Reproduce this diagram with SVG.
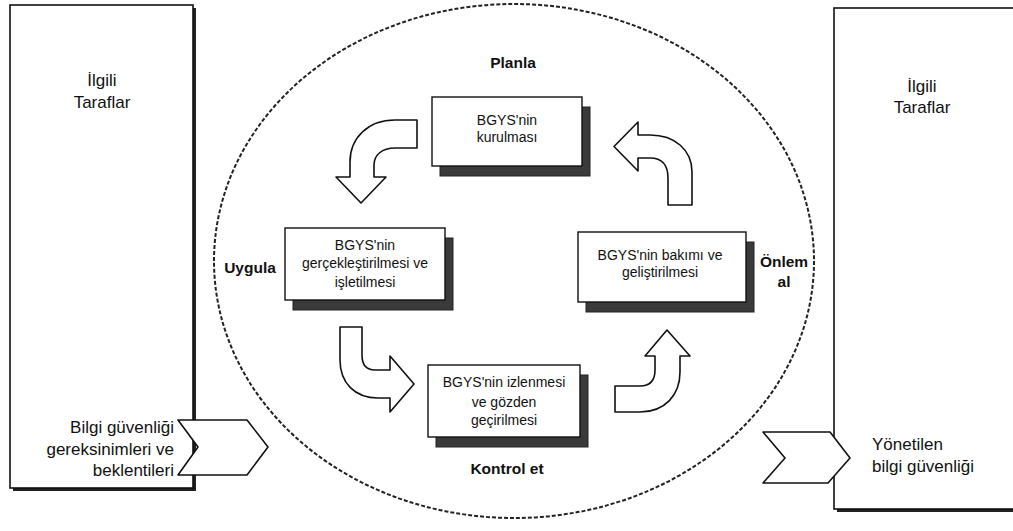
<svg xmlns="http://www.w3.org/2000/svg" width="1013" height="531" viewBox="0 0 1013 531">
<style>
text{font-family:"Liberation Sans",Arial,sans-serif;fill:#111}
.outer{font-size:17px}
.lbl{font-size:15.5px;font-weight:bold}
.bt{font-size:14px}
.box{fill:#fff;stroke:#111;stroke-width:1.4}
.shadow{fill:#3a3a3a;stroke:#222;stroke-width:1}
.arrow{fill:#fff;stroke:#111;stroke-width:1.6;stroke-linejoin:round}
.panel{fill:#fff;stroke:#111;stroke-width:1.6}
.pshadow{fill:#222}
</style>
<rect width="1013" height="531" fill="#fff"/>
<g id="left-party">
  <rect class="pshadow" x="13" y="8" width="183" height="483"/>
  <rect class="panel" x="10" y="5" width="183" height="483"/>
  <text class="outer" x="102" y="86" text-anchor="middle">İlgili</text>
  <text class="outer" x="102" y="108" text-anchor="middle">Taraflar</text>
  <text class="outer" x="174" y="433" text-anchor="end">Bilgi güvenliği</text>
  <text class="outer" x="174" y="455" text-anchor="end">gereksinimleri ve</text>
  <text class="outer" x="174" y="476" text-anchor="end">beklentileri</text>
</g>
<g id="right-party">
  <rect class="pshadow" x="837" y="11" width="190" height="501"/>
  <rect class="panel" x="834" y="8" width="190" height="501"/>
  <text class="outer" x="922" y="92" text-anchor="middle">İlgili</text>
  <text class="outer" x="922" y="113" text-anchor="middle">Taraflar</text>
  <text class="outer" x="872" y="450">Yönetilen</text>
  <text class="outer" x="872" y="472">bilgi güvenliği</text>
</g>
<g id="cycle">
  <ellipse cx="514" cy="261" rx="300" ry="257" fill="none" stroke="#222" stroke-width="2" stroke-dasharray="4 2"/>
  <text class="lbl" x="513" y="68" text-anchor="middle">Planla</text>
  <text class="lbl" x="250" y="273" text-anchor="middle">Uygula</text>
  <text class="lbl" x="784" y="267" text-anchor="middle">Önlem</text>
  <text class="lbl" x="784" y="287" text-anchor="middle">al</text>
  <text class="lbl" x="507" y="474" text-anchor="middle">Kontrol et</text>
</g>
<g id="node-plan">
  <rect class="shadow" x="440" y="107" width="150" height="69"/>
  <rect class="box" x="432" y="97" width="150" height="69"/>
  <text class="bt" x="507" y="125" text-anchor="middle">BGYS'nin</text>
  <text class="bt" x="507" y="142" text-anchor="middle">kurulması</text>
</g>
<g id="node-do">
  <rect class="shadow" x="293" y="238" width="160" height="72"/>
  <rect class="box" x="285" y="228" width="160" height="72"/>
  <text class="bt" x="365" y="250" text-anchor="middle">BGYS'nin</text>
  <text class="bt" x="365" y="268" text-anchor="middle">gerçekleştirilmesi ve</text>
  <text class="bt" x="365" y="287" text-anchor="middle">işletilmesi</text>
</g>
<g id="node-act">
  <rect class="shadow" x="586" y="242" width="168" height="70"/>
  <rect class="box" x="578" y="232" width="168" height="70"/>
  <text class="bt" x="660" y="260" text-anchor="middle">BGYS'nin bakımı ve</text>
  <text class="bt" x="660" y="277" text-anchor="middle">geliştirilmesi</text>
</g>
<g id="node-check">
  <rect class="shadow" x="436" y="375" width="152" height="72"/>
  <rect class="box" x="428" y="365" width="152" height="72"/>
  <text class="bt" x="504" y="387" text-anchor="middle">BGYS'nin izlenmesi</text>
  <text class="bt" x="504" y="407" text-anchor="middle">ve gözden</text>
  <text class="bt" x="504" y="425" text-anchor="middle">geçirilmesi</text>
</g>
<g id="connectors">
  <path class="arrow" d="M417,120 L395,120 C368,120 350,138 350,162 L350,177 L336,177 L361,203 L386,177 L374,177 L374,165 C374,155 382,148 395,148 L417,148 Z"/>
  <path class="arrow" d="M668,205 L668,178 C668,165 662,158 650,158 L638,158 L638,171 L614,146.5 L638,122 L638,135 L650,135 C675,135 692,150 692,172 L692,205 Z"/>
  <path class="arrow" d="M340,327 L362,327 L362,355 C362,365 366,370 375,370 L390,370 L390,356 L414,384 L390,412 L390,398 L378,398 C355,398 340,383 340,360 Z"/>
  <path class="arrow" d="M615,386 L640,386 C650,386 655,380 655,370 L655,356 L645,356 L667,330 L690,356 L680,356 L680,372 C680,395 665,412 640,412 L615,412 Z"/>
  <path class="arrow" d="M178,420 L247,420 L268,447 L247,475 L178,475 L198,447 Z"/>
  <path class="arrow" d="M763,432 L830,432 L850,458 L828,483 L763,483 L785,458 Z"/>
</g>
</svg>
